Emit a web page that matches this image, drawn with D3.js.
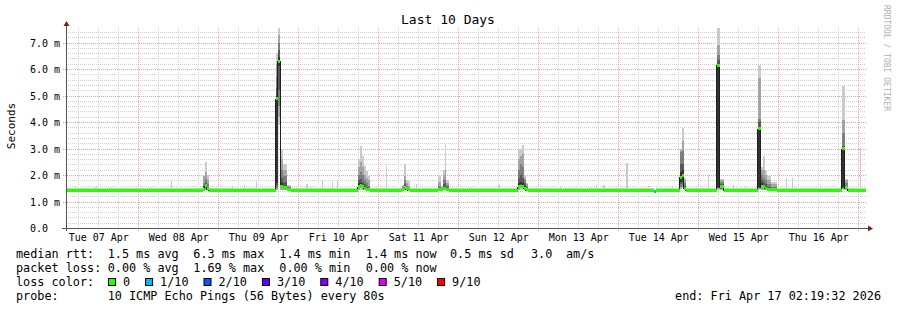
<!DOCTYPE html>
<html>
<head>
<meta charset="utf-8">
<script src="https://cdn.jsdelivr.net/npm/d3@7"></script>
<style>
  body { margin: 0; background: #fff; }
  svg { display: block; font-family: "DejaVu Sans Mono", monospace; }
  text { white-space: pre; }
</style>
</head>
<body>
<div id="chart"></div>
<script>
(function () {

	"use strict";

	// time window of the graph
	var startTime = new Date(2026, 3, 7, 2, 19, 32);
	var endTime = new Date(2026, 3, 17, 2, 19, 32);

	// quiet periods: median and the 10 sorted pings (ms)
	var baseMedian = 1.42;
	var basePings = [1.37, 1.38, 1.39, 1.40, 1.41, 1.43, 1.44, 1.45, 1.47, 1.50];

	// busy columns: start, length in minutes, median, loss bucket, sorted pings
	var spikeTimes = [
		"2026-04-08 19:24", "2026-04-08 20:00", "2026-04-08 20:36",
		"2026-04-09 17:18", "2026-04-09 17:54", "2026-04-09 18:39", "2026-04-09 19:33", "2026-04-09 20:45",
		"2026-04-10 17:55", "2026-04-10 18:31", "2026-04-10 19:07", "2026-04-10 19:43", "2026-04-10 20:19", "2026-04-10 20:55",
		"2026-04-11 07:07", "2026-04-11 07:43", "2026-04-11 08:19", "2026-04-11 08:55",
		"2026-04-11 17:55", "2026-04-11 18:49", "2026-04-11 19:25", "2026-04-11 20:01", "2026-04-11 20:19",
		"2026-04-12 17:55", "2026-04-12 18:31", "2026-04-12 19:07", "2026-04-12 19:43", "2026-04-12 20:19",
		"2026-04-14 10:43",
		"2026-04-14 18:31", "2026-04-14 19:07", "2026-04-14 19:43",
		"2026-04-15 05:31", "2026-04-15 06:25",
		"2026-04-15 17:49", "2026-04-15 18:43", "2026-04-15 19:19", "2026-04-15 19:55", "2026-04-15 20:31", "2026-04-15 21:43",
		"2026-04-16 19:07", "2026-04-16 20:01"
	];
	var spikeMinutes = [
		36, 36, 36,
		36, 45, 54, 72, 72,
		36, 36, 36, 36, 36, 36,
		36, 36, 36, 36,
		54, 36, 36, 18, 54,
		36, 36, 36, 36, 36,
		36,
		36, 36, 36,
		54, 72,
		54, 36, 36, 36, 72, 108,
		54, 54
	];
	var spikeMedians = [
		1.45, 1.60, 1.48,
		4.88, 6.29, 1.55, 1.52, 1.45,
		1.55, 1.62, 1.58, 1.50, 1.46, 1.44,
		1.45, 1.52, 1.48, 1.44,
		1.44, 1.44, 1.50, 1.50, 1.46,
		1.55, 1.58, 1.55, 1.50, 1.45,
		1.38,
		1.92, 2.00, 1.50,
		6.15, 1.55,
		3.75, 1.55, 1.55, 1.50, 1.46, 1.44,
		3.00, 1.52
	];
	var spikeLoss = [
		0, 0, 0,
		0, 0, 0, 0, 0,
		0, 0, 0, 0, 0, 0,
		0, 0, 0, 0,
		0, 0, 0, 0, 0,
		0, 0, 0, 0, 0,
		1,
		0, 0, 0,
		0, 0,
		0, 0, 0, 0, 0, 0,
		0, 0
	];
	var spikePings = [
		[1.40, 1.42, 1.44, 1.45, 1.46, 1.50, 1.60, 1.70, 1.95, 2.00],
		[1.42, 1.45, 1.50, 1.55, 1.58, 1.62, 1.70, 1.85, 2.10, 2.50],
		[1.40, 1.42, 1.45, 1.47, 1.48, 1.50, 1.55, 1.65, 1.80, 2.00],
		[1.42, 1.45, 1.50, 1.60, 1.70, 5.00, 5.30, 5.70, 6.20, 6.60],
		[3.90, 4.20, 4.60, 5.20, 6.10, 6.45, 6.70, 7.00, 7.30, 7.60],
		[1.42, 1.45, 1.50, 1.55, 1.60, 1.70, 1.90, 2.20, 2.60, 3.00],
		[1.42, 1.45, 1.48, 1.50, 1.55, 1.60, 1.75, 1.95, 2.20, 2.42],
		[1.40, 1.42, 1.44, 1.45, 1.46, 1.48, 1.50, 1.53, 1.58, 1.62],
		[1.42, 1.45, 1.50, 1.55, 1.60, 1.70, 1.80, 2.00, 2.30, 2.60],
		[1.45, 1.50, 1.55, 1.60, 1.65, 1.70, 1.85, 2.10, 2.50, 3.08],
		[1.42, 1.45, 1.50, 1.55, 1.58, 1.62, 1.75, 2.00, 2.30, 2.70],
		[1.42, 1.44, 1.46, 1.50, 1.52, 1.55, 1.65, 1.80, 2.00, 2.35],
		[1.40, 1.42, 1.44, 1.46, 1.48, 1.50, 1.55, 1.70, 1.90, 2.14],
		[1.40, 1.42, 1.43, 1.44, 1.45, 1.47, 1.50, 1.60, 1.80, 1.97],
		[1.40, 1.42, 1.44, 1.46, 1.48, 1.50, 1.52, 1.55, 1.60, 1.63],
		[1.42, 1.45, 1.48, 1.50, 1.52, 1.55, 1.65, 1.80, 1.95, 2.43],
		[1.42, 1.44, 1.46, 1.48, 1.50, 1.52, 1.55, 1.60, 1.70, 1.80],
		[1.40, 1.42, 1.43, 1.44, 1.45, 1.46, 1.48, 1.52, 1.60, 1.76],
		[1.40, 1.42, 1.43, 1.44, 1.45, 1.46, 1.50, 1.60, 1.75, 1.95],
		[1.40, 1.42, 1.43, 1.44, 1.45, 1.46, 1.48, 1.50, 1.55, 1.60],
		[1.42, 1.45, 1.48, 1.50, 1.52, 1.55, 1.65, 1.80, 2.00, 2.20],
		[1.42, 1.45, 1.48, 1.50, 1.52, 1.55, 1.70, 1.90, 2.20, 3.18],
		[1.40, 1.42, 1.44, 1.46, 1.48, 1.50, 1.55, 1.62, 1.70, 1.82],
		[1.42, 1.45, 1.50, 1.55, 1.60, 1.70, 1.90, 2.20, 2.60, 2.95],
		[1.45, 1.50, 1.55, 1.60, 1.65, 1.75, 2.00, 2.40, 2.70, 3.00],
		[1.45, 1.50, 1.55, 1.60, 1.62, 1.70, 1.90, 2.30, 2.80, 3.15],
		[1.42, 1.45, 1.50, 1.52, 1.55, 1.60, 1.70, 1.80, 1.90, 2.00],
		[1.40, 1.42, 1.44, 1.45, 1.46, 1.48, 1.52, 1.58, 1.65, 1.70],
		[1.36, 1.37, 1.37, 1.38, 1.38, 1.39, 1.40, 1.41, 1.42, 1.44],
		[1.45, 1.50, 1.55, 1.65, 1.75, 2.10, 2.40, 2.85, 2.95, 3.00],
		[1.50, 1.55, 1.60, 1.70, 1.80, 2.20, 2.40, 2.90, 3.30, 3.77],
		[1.42, 1.45, 1.48, 1.50, 1.52, 1.55, 1.60, 1.70, 1.80, 1.90],
		[1.45, 1.48, 1.50, 1.52, 1.55, 6.20, 6.35, 6.54, 6.92, 7.60],
		[1.42, 1.45, 1.48, 1.50, 1.52, 1.58, 1.65, 1.72, 1.80, 1.86],
		[1.45, 1.48, 1.50, 1.52, 1.55, 3.80, 4.00, 4.10, 5.65, 6.16],
		[1.42, 1.45, 1.50, 1.55, 1.60, 1.70, 1.80, 2.00, 2.20, 2.30],
		[1.42, 1.45, 1.50, 1.52, 1.55, 1.60, 1.75, 1.90, 2.20, 2.70],
		[1.42, 1.45, 1.47, 1.50, 1.52, 1.55, 1.65, 1.80, 2.00, 2.20],
		[1.40, 1.42, 1.44, 1.46, 1.48, 1.50, 1.55, 1.65, 1.80, 1.95],
		[1.40, 1.42, 1.43, 1.44, 1.45, 1.46, 1.50, 1.55, 1.65, 1.75],
		[1.45, 1.48, 1.50, 1.52, 1.55, 3.02, 3.10, 3.60, 4.09, 5.34],
		[1.42, 1.44, 1.46, 1.48, 1.50, 1.55, 1.60, 1.70, 1.80, 1.86]
	];

	// single slow pings on an otherwise quiet column: start, minutes, slowest ping
	var bumpTimes = [
		"2026-04-07 02:20", "2026-04-07 05:00", "2026-04-07 11:00", "2026-04-07 15:31",
		"2026-04-08 03:31", "2026-04-08 09:49",
		"2026-04-09 04:07", "2026-04-09 07:43", "2026-04-09 11:28",
		"2026-04-10 02:19", "2026-04-10 03:31", "2026-04-10 07:16", "2026-04-10 10:07", "2026-04-10 11:37",
		"2026-04-11 02:28", "2026-04-11 11:19",
		"2026-04-12 03:31", "2026-04-12 11:55",
		"2026-04-13 06:31", "2026-04-13 15:31", "2026-04-13 17:19", "2026-04-13 19:34",
		"2026-04-14 02:28", "2026-04-14 09:13", "2026-04-14 16:16",
		"2026-04-15 02:55", "2026-04-15 10:34", "2026-04-15 14:01",
		"2026-04-16 02:28", "2026-04-16 04:07", "2026-04-16 12:31",
		"2026-04-17 00:40"
	];
	var bumpMinutes = [
		18, 18, 36, 18,
		18, 18,
		18, 18, 18,
		36, 18, 18, 18, 18,
		18, 18,
		18, 36,
		18, 18, 18, 36,
		36, 18, 18,
		18, 18, 18,
		18, 18, 18,
		18
	];
	var bumpTops = [
		1.95, 1.55, 1.55, 1.53,
		1.55, 1.78,
		1.56, 1.63, 1.74,
		1.66, 1.55, 1.82, 1.72, 1.76,
		2.35, 1.67,
		1.55, 1.62,
		1.55, 1.58, 1.63, 1.63,
		2.47, 1.60, 1.58,
		2.00, 1.63, 1.55,
		1.89, 1.89, 1.55,
		3.02
	];

	var yTicks = [0, 1, 2, 3, 4, 5, 6, 7];
	var lossLabels = ["0", "1/10", "2/10", "3/10", "4/10", "5/10", "9/10"];
	var lossColors = ["#26ff00", "#00b8ff", "#0059ff", "#5e00ff", "#7e00ff", "#dd00ff", "#ff0000"];
	var smokeShades = ["#cacaca", "#a4a4a4", "#7e7e7e", "#585858", "#323232"];

	var rttStats = ["1.5 ms avg", "6.3 ms max", "1.4 ms min", "1.4 ms now", "0.5 ms sd", "3.0", "am/s"];
	var lossStats = ["0.00 % avg", "1.69 % max", "0.00 % min", "0.00 % now"];
	var probeText = "10 ICMP Echo Pings (56 Bytes) every 80s";
	var endText = "end: Fri Apr 17 02:19:32 2026";

	// canvas
	var width = 897, height = 310;
	var left = 66, right = 866, top = 28, bottom = 228;

	var svg = d3.select("#chart").append("svg")
		.attr("width", width).attr("height", height);

	svg.append("rect").attr("width", width).attr("height", height).attr("fill", "#fff");

	var x = d3.scaleTime().domain([startTime, endTime]).range([left, right]);
	var y = d3.scaleLinear().domain([0, (bottom - top) / 26.5]).range([bottom, top]);

	var snap = function (v) { return Math.round(v) + 0.5; };

	// grid
	var grid = svg.append("g").attr("stroke-dasharray", "1,1").attr("stroke-width", 1);
	var minorY = d3.range(1, 38).map(function (i) { return i * 0.2; })
		.filter(function (v) { return Math.abs(v - Math.round(v)) > 0.01; });
	grid.selectAll("line.my").data(minorY).enter().append("line")
		.attr("x1", left).attr("x2", right)
		.attr("y1", function (d) { return snap(y(d)); })
		.attr("y2", function (d) { return snap(y(d)); })
		.attr("stroke", "#cfcfcf");
	var hours6 = d3.timeHour.every(6).range(startTime, endTime)
		.filter(function (d) { return d.getHours() !== 0; });
	grid.selectAll("line.mx").data(hours6).enter().append("line")
		.attr("x1", function (d) { return snap(x(d)); })
		.attr("x2", function (d) { return snap(x(d)); })
		.attr("y1", top).attr("y2", bottom + 3)
		.attr("stroke", "#cfcfcf");
	grid.selectAll("line.gy").data(yTicks.slice(1)).enter().append("line")
		.attr("x1", left - 3).attr("x2", right)
		.attr("y1", function (d) { return snap(y(d)); })
		.attr("y2", function (d) { return snap(y(d)); })
		.attr("stroke", "#f0a0a0");
	grid.selectAll("line.gx").data(d3.timeDay.range(startTime, endTime)).enter().append("line")
		.attr("x1", function (d) { return snap(x(d)); })
		.attr("x2", function (d) { return snap(x(d)); })
		.attr("y1", top).attr("y2", bottom + 3)
		.attr("stroke", "#f0a0a0");

	// build the columns: busy columns, bumps and quiet fill in between
	var parseTime = d3.timeParse("%Y-%m-%d %H:%M");
	var events = [];
	spikeTimes.forEach(function (t, i) {
		var t0 = parseTime(t);
		events.push({ t0: t0, t1: d3.timeMinute.offset(t0, spikeMinutes[i]),
			med: spikeMedians[i], loss: spikeLoss[i], pings: spikePings[i] });
	});
	bumpTimes.forEach(function (t, i) {
		var t0 = parseTime(t);
		events.push({ t0: t0, t1: d3.timeMinute.offset(t0, bumpMinutes[i]),
			med: baseMedian, loss: 0, pings: basePings.slice(0, 9).concat([bumpTops[i]]) });
	});
	events.sort(function (a, b) { return a.t0 - b.t0; });

	var columns = [];
	var cursor = startTime;
	events.forEach(function (e) {
		if (e.t0 > cursor) {
			columns.push({ t0: cursor, t1: e.t0, med: baseMedian, loss: 0, pings: basePings });
		}
		columns.push(e);
		if (e.t1 > cursor) { cursor = e.t1; }
	});
	if (cursor < endTime) {
		columns.push({ t0: cursor, t1: endTime, med: baseMedian, loss: 0, pings: basePings });
	}

	svg.append("clipPath").attr("id", "plot")
		.append("rect").attr("x", left).attr("y", top)
		.attr("width", right - left).attr("height", bottom - top);

	var plot = svg.append("g").attr("clip-path", "url(#plot)");

	// smoke
	smokeShades.forEach(function (shade, i) {
		plot.append("g").attr("fill", shade).attr("shape-rendering", "crispEdges")
			.selectAll("rect").data(columns).enter().append("rect")
			.attr("x", function (d) { return x(d.t0); })
			.attr("width", function (d) { return x(d.t1) - x(d.t0); })
			.attr("y", function (d) { return y(d.pings[9 - i]); })
			.attr("height", function (d) { return y(d.pings[i]) - y(d.pings[9 - i]); });
	});

	// median line
	var steps = columns.map(function (d) { return [d.t0, d.med]; });
	steps.push([endTime, columns[columns.length - 1].med]);
	plot.append("path")
		.attr("d", d3.line()
			.x(function (d) { return x(d[0]); })
			.y(function (d) { return snap(y(d[1])); })
			.curve(d3.curveStepAfter)(steps))
		.attr("fill", "none").attr("stroke", "#202020").attr("stroke-width", 1)
		.attr("shape-rendering", "crispEdges");

	plot.append("g").attr("shape-rendering", "crispEdges")
		.selectAll("rect").data(columns).enter().append("rect")
		.attr("x", function (d) { return x(d.t0); })
		.attr("width", function (d) { return x(d.t1) - x(d.t0); })
		.attr("y", function (d) { return y(d.med) - 1.5; })
		.attr("height", 3)
		.attr("fill", function (d) { return lossColors[d.loss]; });

	// axes
	var yAxis = svg.append("g").attr("transform", "translate(" + left + ",0)")
		.call(d3.axisLeft(y).tickValues(yTicks).tickSize(0)
			.tickFormat(function (d) { return d === 0 ? "0.0" : d.toFixed(1) + " m"; }));
	yAxis.select(".domain").remove();
	yAxis.selectAll("text")
		.attr("x", 30 - left).attr("dy", null).attr("dominant-baseline", null)
		.attr("y", 3.5).attr("text-anchor", "start")
		.attr("font-family", "DejaVu Sans Mono").attr("font-size", 10).attr("fill", "#000");

	var noons = d3.timeHour.every(12).range(startTime, endTime)
		.filter(function (d) { return d.getHours() === 12; });
	var xAxis = svg.append("g").attr("transform", "translate(0," + bottom + ")")
		.call(d3.axisBottom(x).tickValues(noons).tickSize(0).tickFormat(d3.timeFormat("%a %d %b")));
	xAxis.select(".domain").remove();
	xAxis.selectAll("text").attr("y", 13).attr("dy", null)
		.attr("font-family", "DejaVu Sans Mono").attr("font-size", 10).attr("fill", "#000");

	svg.append("line").attr("x1", snap(left)).attr("x2", snap(left))
		.attr("y1", 24).attr("y2", bottom + 3).attr("stroke", "#555");
	svg.append("line").attr("x1", left - 4).attr("x2", right + 4)
		.attr("y1", snap(bottom)).attr("y2", snap(bottom)).attr("stroke", "#555");
	svg.append("path").attr("fill", "#8b1a1a")
		.attr("d", "M" + (snap(left) - 3) + ",26 L" + snap(left) + ",21 L" + (snap(left) + 3) + ",26 Z");
	svg.append("path").attr("fill", "#8b1a1a")
		.attr("d", "M" + (right + 2) + "," + (snap(bottom) - 3) + " L" + (right + 7) + "," + snap(bottom) +
			" L" + (right + 2) + "," + (snap(bottom) + 3) + " Z");

	// titles
	svg.append("text").attr("x", 448).attr("y", 24).attr("text-anchor", "middle")
		.attr("font-size", 13).text("Last 10 Days");
	svg.append("text").attr("transform", "translate(15,126) rotate(-90)")
		.attr("text-anchor", "middle").attr("font-size", 11).text("Seconds");
	svg.append("text").attr("transform", "translate(884,5) rotate(90)")
		.attr("font-size", 8).attr("fill", "#b0b0b0").text("RRDTOOL / TOBI OETIKER");

	// legend
	var legend = svg.append("g").attr("font-size", 11.8).attr("fill", "#000");
	var cols = [16, 107.7, 193.3, 279.3, 365.7, 450, 531, 566];
	legend.append("text").attr("x", cols[0]).attr("y", 258).text("median rtt:");
	rttStats.forEach(function (s, i) {
		legend.append("text").attr("x", cols[i + 1]).attr("y", 258).text(s);
	});
	legend.append("text").attr("x", cols[0]).attr("y", 272).text("packet loss:");
	lossStats.forEach(function (s, i) {
		legend.append("text").attr("x", cols[i + 1]).attr("y", 272).text(s);
	});
	legend.append("text").attr("x", cols[0]).attr("y", 286).text("loss color:");
	var bx = 108;
	lossLabels.forEach(function (s, i) {
		legend.append("rect").attr("x", bx + 0.5).attr("y", 278.5).attr("width", 7).attr("height", 7)
			.attr("fill", lossColors[i]).attr("stroke", "#000").attr("stroke-width", 1);
		legend.append("text").attr("x", bx + 15).attr("y", 286).text(s);
		bx = bx + 15 + s.length * 7.1 + 15;
	});
	legend.append("text").attr("x", cols[0]).attr("y", 300).text("probe:");
	legend.append("text").attr("x", cols[1]).attr("y", 300).text(probeText);
	legend.append("text").attr("x", 881).attr("y", 300).attr("text-anchor", "end").text(endText);

}).call(this);
</script>
</body>
</html>
